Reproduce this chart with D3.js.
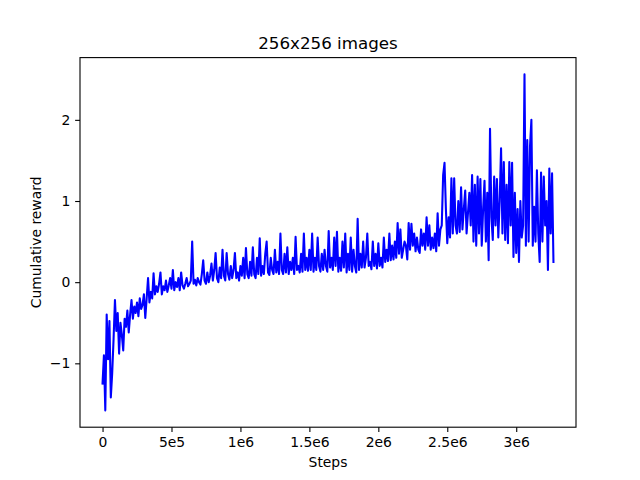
<!DOCTYPE html>
<html><head><meta charset="utf-8">
<script src="https://cdn.jsdelivr.net/npm/d3@7"></script>
<style>
body{margin:0;background:#fff;}
text{font-family:"DejaVu Sans",sans-serif;}
</style></head>
<body><svg id="c" width="640" height="480"></svg>
<script>
const title = "256x256 images";
const xLabel = "Steps";
const yLabel = "Cumulative reward";
const stepInterval = 10000;
const rewards = [
-1.25,-0.9,-1.58,-0.40,-0.95,-0.48,-1.42,-1.12,-0.7,-0.22,
-0.6,-0.38,-0.88,-0.5,-0.65,-0.84,-0.45,-0.55,-0.35,-0.62,
-0.4,-0.22,-0.45,-0.3,-0.38,-0.25,-0.42,-0.2,-0.33,-0.28,
-0.15,-0.44,-0.2,0.05,-0.25,-0.12,-0.2,0.11,-0.15,-0.05,
-0.12,-0.02,0.12,-0.15,-0.05,-0.1,0.02,-0.12,-0.04,0.05,
-0.08,0.15,-0.1,0.0,-0.06,0.05,-0.1,0.12,-0.04,-0.08,
-0.02,0.05,-0.05,-0.02,0.02,0.5,-0.02,0.03,-0.04,0.05,
0.0,-0.03,0.1,0.27,0.02,-0.02,0.12,0.0,0.08,0.23,
0.02,0.15,0.36,0.05,0.0,0.18,0.05,0.4,0.08,0.02,
0.36,0.1,0.03,0.2,0.05,0.15,0.36,0.05,0.12,0.02,
0.2,0.08,0.3,0.05,0.42,0.1,0.05,0.25,0.08,0.43,
0.1,0.05,0.3,0.1,0.54,0.08,0.2,0.1,0.35,0.5,
0.12,0.09,0.3,0.15,0.1,0.4,0.12,0.25,0.1,0.6,
0.15,0.1,0.35,0.12,0.43,0.1,0.25,0.15,0.3,0.1,
0.56,0.15,0.2,0.12,0.35,0.13,0.6,0.15,0.3,0.14,
0.4,0.15,0.6,0.13,0.3,0.15,0.55,0.2,0.13,0.35,
0.15,0.4,0.2,0.13,0.63,0.18,0.3,0.15,0.55,0.2,
0.62,0.13,0.3,0.14,0.5,0.18,0.6,0.12,0.35,0.15,
0.55,0.13,0.4,0.2,0.12,0.78,0.15,0.35,0.18,0.5,
0.18,0.3,0.6,0.2,0.25,0.16,0.5,0.2,0.35,0.17,
0.48,0.2,0.3,0.18,0.55,0.25,0.4,0.26,0.6,0.27,
0.45,0.28,0.5,0.3,0.73,0.35,0.65,0.3,0.4,0.5,
0.45,0.28,0.73,0.4,0.72,0.45,0.6,0.38,0.55,0.4,
0.36,0.65,0.45,0.6,0.4,0.8,0.45,0.7,0.4,0.55,
0.42,0.6,0.38,0.85,0.45,0.65,0.7,1.32,1.47,0.9,
0.48,0.8,0.55,1.28,0.6,1.28,0.7,0.6,1.0,0.62,
1.17,0.65,0.9,1.13,0.6,0.85,1.1,0.7,1.32,0.5,
1.2,0.45,1.3,0.6,1.27,0.45,0.9,1.25,0.5,1.1,
0.27,1.89,0.8,0.52,1.3,0.7,1.27,0.55,1.0,1.65,
0.6,1.48,0.52,1.2,0.48,1.48,0.7,1.47,0.31,1.1,
0.36,0.9,0.25,1.0,0.55,0.7,2.56,0.45,1.75,0.5,
1.67,2.0,0.45,0.93,0.5,1.38,0.6,0.25,1.35,0.5,
1.3,0.7,1.0,0.15,1.4,0.6,1.34,0.25
];
const steps = rewards.map((_, i) => i * stepInterval);
const xTickValues = [0, 5e5, 1e6, 1.5e6, 2e6, 2.5e6, 3e6];
const xTickLabels = ["0", "5e5", "1e6", "1.5e6", "2e6", "2.5e6", "3e6"];
const yTickValues = [-1, 0, 1, 2];
const yTickLabels = ["\u22121", "0", "1", "2"];

const W = 640, H = 480;
const m = {left: 80, right: 576, top: 57.6, bottom: 427.2};
const svg = d3.select("#c");

const xmin = d3.min(steps), xmax = d3.max(steps);
const ymin = d3.min(rewards), ymax = d3.max(rewards);
const xp = (xmax - xmin) * 0.05, yp = (ymax - ymin) * 0.05;
const x = d3.scaleLinear().domain([xmin - xp, xmax + xp]).range([m.left, m.right]);
const y = d3.scaleLinear().domain([ymin - yp, ymax + yp]).range([m.bottom, m.top]);

const data = steps.map((s, i) => [s, rewards[i]]);
svg.append("path").datum(data)
  .attr("fill", "none").attr("stroke", "#0000ff").attr("stroke-width", 2.08)
  .attr("stroke-linejoin", "round").attr("stroke-linecap", "square")
  .attr("d", d3.line().x(d => x(d[0])).y(d => y(d[1])));

const xAxis = d3.axisBottom(x).tickValues(xTickValues)
  .tickFormat((d, i) => xTickLabels[i]).tickSizeOuter(0).tickSize(4.86).tickPadding(4.86);
const gx = svg.append("g").attr("transform", `translate(0,${m.bottom})`).call(xAxis);
const yAxis = d3.axisLeft(y).tickValues(yTickValues)
  .tickFormat((d, i) => yTickLabels[i]).tickSizeOuter(0).tickSize(4.86).tickPadding(4.86);
const gy = svg.append("g").attr("transform", `translate(${m.left},0)`).call(yAxis);
[gx, gy].forEach(g => {
  g.select(".domain").remove();
  g.selectAll(".tick line").attr("stroke", "#000").attr("stroke-width", 1.1);
  g.selectAll(".tick text").attr("font-size", "13.9px").attr("fill", "#000")
    .attr("font-family", "DejaVu Sans");
});

svg.append("rect").attr("x", m.left).attr("y", m.top)
  .attr("width", m.right - m.left).attr("height", m.bottom - m.top)
  .attr("fill", "none").attr("stroke", "#000").attr("stroke-width", 1.1);

svg.append("text").attr("x", (m.left + m.right) / 2).attr("y", 49)
  .attr("text-anchor", "middle").attr("font-size", "16.7px").text(title);
svg.append("text").attr("x", (m.left + m.right) / 2).attr("y", 467)
  .attr("text-anchor", "middle").attr("font-size", "13.9px").text(xLabel);
svg.append("text").attr("transform", `translate(41,${(m.top + m.bottom) / 2}) rotate(-90)`)
  .attr("text-anchor", "middle").attr("font-size", "13.9px").text(yLabel);
</script></body></html>
